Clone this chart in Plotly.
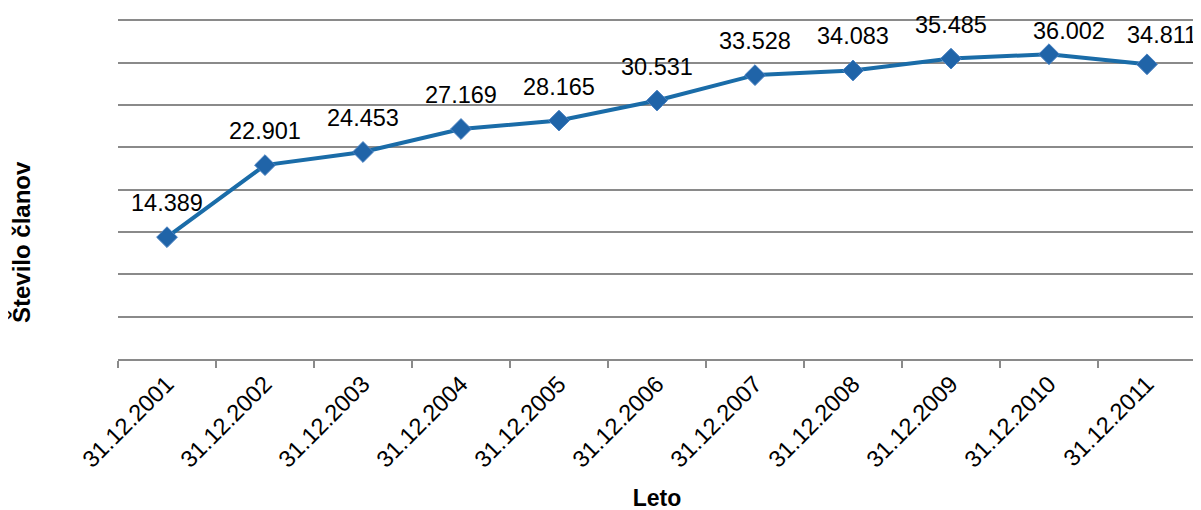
import plotly.graph_objects as go

categories = ["31.12.2001", "31.12.2002", "31.12.2003", "31.12.2004", "31.12.2005",
              "31.12.2006", "31.12.2007", "31.12.2008", "31.12.2009", "31.12.2010", "31.12.2011"]
members = [14.389, 22.901, 24.453, 27.169, 28.165, 30.531, 33.528, 34.083, 35.485, 36.002, 34.811]
labels = ["14.389", "22.901", "24.453", "27.169", "28.165", "30.531", "33.528", "34.083", "35.485", "36.002", "34.811"]

FONT = "Arial, Liberation Sans, sans-serif"
GRID = "#8a8a8a"

# label placement offsets in pixels (last two labels were nudged in the original)
label_xshift = [0, 0, 0, 0, 0, 0, 0, 0, 0, 20, 15]
label_yshift = [34, 34, 34, 34, 34, 34, 34, 34, 34, 23, 29]

fig = go.Figure()
fig.add_trace(go.Scatter(
    x=categories, y=members, mode="lines+markers",
    line=dict(color="#1a6ca8", width=4),
    marker=dict(symbol="diamond", size=16, color="#2064a8",
                line=dict(color="#4a82c2", width=1)),
    hoverinfo="skip", showlegend=False,
))

for c, v, t, dx, dy in zip(categories, members, labels, label_xshift, label_yshift):
    fig.add_annotation(x=c, y=v, text=t, showarrow=False, xshift=dx, yshift=dy,
                       font=dict(family=FONT, size=23.5, color="#000000"))

# y-axis title (placed lower than plot centre, as in the reference)
fig.add_annotation(xref="paper", yref="paper", x=0, y=0.342, xshift=-97,
                   xanchor="center", yanchor="middle", textangle=-90,
                   text="<b>Število članov</b>", showarrow=False,
                   font=dict(family=FONT, size=24, color="#000000"))

fig.update_layout(
    width=1201, height=510,
    margin=dict(l=110, r=13, t=9, b=159),
    paper_bgcolor="white", plot_bgcolor="white",
    font=dict(family=FONT, size=23.5, color="#000000"),
)
fig.update_xaxes(
    type="category", range=[-0.5, len(categories) - 0.5],
    tickson="boundaries", ticks="outside", ticklen=7,
    tickcolor=GRID, tickwidth=2, showline=True, linecolor=GRID, linewidth=2,
    showgrid=False, tickangle=-45, tickfont=dict(family=FONT, size=23.5),
    title=dict(text="<b>Leto</b>", font=dict(family=FONT, size=23), standoff=18),
    automargin=False,
)
fig.update_yaxes(
    range=[0, 40.4], dtick=5, showticklabels=False, ticks="",
    showgrid=True, gridcolor=GRID, gridwidth=2, zeroline=False, showline=False,
    automargin=False,
)

fig.write_html("out.html")
